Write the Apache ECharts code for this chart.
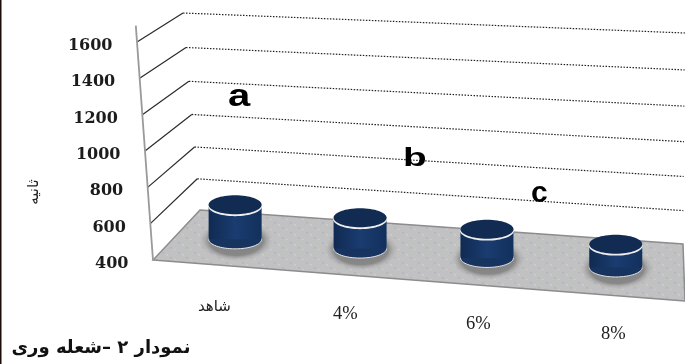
<!DOCTYPE html>
<html>
<head>
<meta charset="utf-8">
<style>
html,body{margin:0;padding:0;background:#fff}
#chart{width:685px;height:364px}
</style>
<script src="https://cdn.jsdelivr.net/npm/echarts@6/dist/echarts.min.js"></script>
</head>
<body>
<div id="chart"></div>
<script>
// Flame duration per treatment
const categories = ['شاهد', '4%', '6%', '8%'];
const flameSeconds = [603, 578, 564, 530];
const valueTicks = [400, 600, 800, 1000, 1200, 1400, 1600];
const axisTop = 1690;

const chart = echarts.init(document.getElementById('chart'), null, {renderer: 'canvas'});

const GRID = {left: 153, top: 42, width: 532, height: 218};

// Corners of the tilted box, each as [x, y at 400, x drift, rise over the full value range].
const BOX = {
  fl: [153, 260, -16, 218],
  fr: [685, 301, 2, 232],
  bl: [200, 210, -17, 197],
  br: [683, 244, 2, 211]
};

// Oblique view: takes a plain grid pixel and a depth (0 front, 1 back).
function project(pt, depth) {
  const u = (pt[0] - GRID.left) / GRID.width;
  let t = (GRID.top + GRID.height - pt[1]) / GRID.height;
  t -= 0.06 * t * (1 - t) * depth;
  const at = c => [c[0] + c[2] * t, c[1] - c[3] * t];
  const mix = (a, b, k) => [a[0] + (b[0] - a[0]) * k, a[1] + (b[1] - a[1]) * k];
  return mix(
    mix(at(BOX.fl), at(BOX.fr), u),
    mix(at(BOX.bl), at(BOX.br), u),
    depth
  );
}

const gridX = u => GRID.left + GRID.width * u;

// Category slots are a little left of centre and spread out toward the ends.
function slotX(px) {
  const u = (px - GRID.left) / GRID.width;
  return px - 7 + 16 * (u - 0.5) * (u - 0.5) - 0.3;
}

// Speckled floor texture
function floorPattern() {
  const c = document.createElement('canvas');
  c.width = 16; c.height = 10;
  const g = c.getContext('2d');
  g.fillStyle = '#c1c1c1';
  g.fillRect(0, 0, 16, 10);
  const dots = [[2, 2, '#a9b6cb'], [10, 7, '#a9b6cb'], [6, 4, '#cdcdcd'], [14, 9, '#cdcdcd']];
  dots.forEach(d => { g.fillStyle = d[2]; g.fillRect(d[0], d[1], 2, 1.5); });
  return c;
}
const floorFill = {image: floorPattern(), repeat: 'repeat'};

function renderFloor(params, api) {
  const left = api.coord([0, valueTicks[0]])[1];
  const corner = (u, d) => project([gridX(u), left], d);
  return {
    type: 'polygon',
    shape: {points: [corner(0, 0), corner(1, 0), corner(1, 1), corner(0, 1)]},
    style: {fill: floorFill, stroke: '#8c8c8c', lineWidth: 1.5},
    silent: true
  };
}

function renderGridline(params, api) {
  const v = api.value(0);
  const y = api.coord([0, v])[1];
  const front = project([gridX(0), y], 0);
  const back = project([gridX(0), y], 1);
  const right = project([gridX(1), y], 1);
  const children = [{
    type: 'text',
    x: front[0] - 24.5, y: front[1] + 4,
    style: {
      text: String(v), align: 'right', verticalAlign: 'middle', fill: '#1c1c1c',
      font: 'bold 16px "DejaVu Serif"'
    }
  }];
  if (v > valueTicks[0]) {
    children.push({
      type: 'line',
      shape: {x1: front[0], y1: front[1], x2: back[0], y2: back[1]},
      style: {stroke: '#2a2a2a', lineWidth: 1.2}
    }, {
      type: 'line',
      shape: {x1: back[0], y1: back[1], x2: right[0], y2: right[1]},
      style: {stroke: '#222', lineWidth: 1.2, lineDash: [1.5, 1.5]}
    });
  }
  return {type: 'group', children};
}

function renderEdge(params, api) {
  const a = project([gridX(0), api.coord([0, valueTicks[0]])[1]], 0);
  const b = project([gridX(0), api.coord([0, axisTop])[1]], 0);
  return {
    type: 'line',
    shape: {x1: a[0], y1: a[1], x2: b[0], y2: b[1]},
    style: {stroke: '#9a9a9a', lineWidth: 1.8}
  };
}

const sideFill = {
  type: 'linear', x: 0, y: 0, x2: 1, y2: 0,
  colorStops: [
    {offset: 0, color: '#102a52'},
    {offset: 0.5, color: '#1a3c70'},
    {offset: 1, color: '#12305c'}
  ]
};

function renderCylinder(params, api) {
  const i = api.value(0);
  const base = api.coord([i, valueTicks[0]]);
  const top = api.coord([i, api.value(1)]);
  const b = project([slotX(base[0]), base[1]], 0.5);
  const t = project([slotX(top[0]), top[1]], 0.5);
  const rx = 26.5, ry = 9.5;
  return {
    type: 'group',
    children: [{
      type: 'circle', z2: 1,
      x: b[0] + 1, y: b[1] + 1, scaleY: 0.56,
      shape: {cx: 0, cy: 0, r: rx + 11},
      style: {
        fill: {
          type: 'radial', x: 0.5, y: 0.5, r: 0.5,
          colorStops: [
            {offset: 0, color: 'rgba(125,125,125,1)'},
            {offset: 0.72, color: 'rgba(130,130,130,0.9)'},
            {offset: 1, color: 'rgba(185,185,185,0)'}
          ]
        }
      }
    }, {
      type: 'ellipse', z2: 2,
      shape: {cx: b[0], cy: b[1], rx: rx, ry: ry},
      style: {fill: '#16345f', stroke: '#e4e4e4', lineWidth: 1}
    }, {
      type: 'rect', z2: 3,
      shape: {x: b[0] - rx, y: t[1], width: rx * 2, height: b[1] - t[1]},
      style: {fill: sideFill}
    }, {
      type: 'ellipse', z2: 4,
      shape: {cx: b[0], cy: t[1] + 1.2, rx: rx + 0.6, ry: ry + 0.6},
      style: {fill: '#eeeeee'}
    }, {
      type: 'ellipse', z2: 5,
      shape: {cx: b[0], cy: t[1], rx: rx, ry: ry},
      style: {fill: '#122b52'}
    }]
  };
}

function renderCategoryLabel(params, api) {
  const i = api.value(0);
  const c = api.coord([i, valueTicks[0]]);
  const p = project([slotX(c[0]), c[1]], 0);
  const name = categories[i];
  return {
    type: 'text',
    x: p[0], y: p[1] + (i === 0 ? 42 : 39),
    style: {
      text: name, align: 'center', verticalAlign: 'middle', fill: '#222',
      font: i === 0 ? '15px "DejaVu Sans"' : '18.5px "Liberation Serif"'
    }
  };
}

const customBase = {type: 'custom', coordinateSystem: 'cartesian2d', silent: true, clip: false, animation: false};

chart.setOption({
  animation: false,
  backgroundColor: '#ffffff',
  tooltip: {show: false},
  grid: {left: GRID.left, top: GRID.top, width: GRID.width, height: GRID.height},
  xAxis: {type: 'category', data: categories, show: false},
  yAxis: {type: 'value', min: valueTicks[0], max: valueTicks[valueTicks.length - 1], interval: 200, show: false},
  series: [
    Object.assign({}, customBase, {data: [[0]], renderItem: renderFloor, z: 1, encode: {x: 0}}),
    Object.assign({}, customBase, {data: valueTicks.map(v => [v]), renderItem: renderGridline, z: 2, encode: {y: 0}}),
    Object.assign({}, customBase, {data: [[0]], renderItem: renderEdge, z: 3, encode: {x: 0}}),
    Object.assign({}, customBase, {data: flameSeconds.map((v, i) => [i, v]), renderItem: renderCylinder, z: 4, encode: {x: 0, y: 1}}),
    Object.assign({}, customBase, {data: categories.map((c, i) => [i]), renderItem: renderCategoryLabel, z: 5, encode: {x: 0}})
  ],
  graphic: [
    {type: 'rect', left: 0, top: 0, shape: {width: 1.5, height: 364}, style: {fill: '#1a0a0a'}, z: 10},
    {type: 'text', x: 228, y: 81, scaleX: 1.25, style: {text: 'a', fill: '#000', font: 'bold 32px "Liberation Sans"', align: 'left', verticalAlign: 'top'}, z: 10},
    {type: 'text', x: 403, y: 147, scaleX: 1.55, style: {text: 'b', fill: '#000', font: 'bold 25px "Liberation Sans"', align: 'left', verticalAlign: 'top'}, z: 10},
    {type: 'text', x: 531, y: 179, scaleX: 1.0, style: {text: 'c', fill: '#000', font: 'bold 30px "Liberation Sans"', align: 'left', verticalAlign: 'top'}, z: 10},
    {type: 'text', x: 34, y: 192, rotation: Math.PI / 2, style: {text: 'ثانیه', fill: '#222', font: '15px "DejaVu Sans"', align: 'center', verticalAlign: 'middle'}, z: 10},
    {type: 'text', x: 101, y: 348, style: {text: 'نمودار ۲ –شعله وری', fill: '#111', font: 'bold 18px "DejaVu Sans"', align: 'center', verticalAlign: 'middle'}, z: 10}
  ]
});
</script>
</body>
</html>
